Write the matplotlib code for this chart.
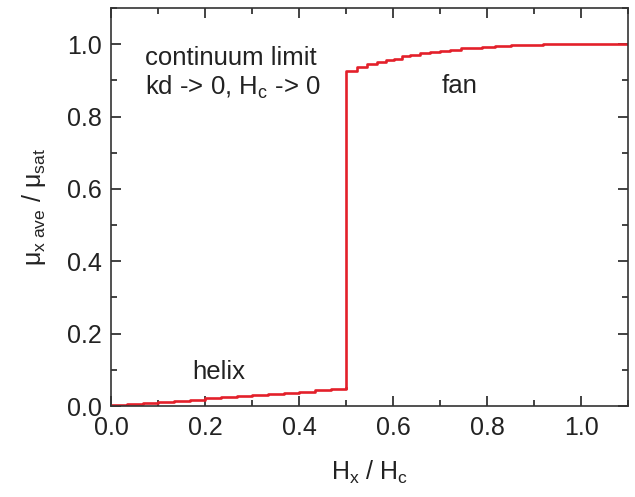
import matplotlib
matplotlib.use("Agg")
import matplotlib.pyplot as plt
from matplotlib.ticker import MultipleLocator, FormatStrFormatter

plt.rcParams['font.family'] = ['Liberation Sans', 'DejaVu Sans']
plt.rcParams['mathtext.fontset'] = 'custom'
plt.rcParams['mathtext.rm'] = 'Liberation Sans'
plt.rcParams['mathtext.it'] = 'Liberation Sans'
plt.rcParams['mathtext.sf'] = 'Liberation Sans'

# helix branch (staircase)
helix_x = [0.0, 0.033, 0.067, 0.1, 0.133, 0.167, 0.2, 0.233, 0.267, 0.3,
           0.333, 0.367, 0.4, 0.433, 0.467, 0.5]
helix_y = [0.003, 0.006, 0.009, 0.012, 0.015, 0.018, 0.021, 0.024, 0.027, 0.030,
           0.034, 0.037, 0.040, 0.043, 0.047, 0.050]
# fan branch
fan_x = [0.5, 0.5, 0.523, 0.545, 0.566, 0.585, 0.601, 0.62, 0.636, 0.658, 0.679,
         0.7, 0.722, 0.745, 0.765, 0.79, 0.817, 0.85, 0.886, 0.92, 1.0, 1.1]
fan_y = [0.050, 0.925, 0.937, 0.944, 0.951, 0.956, 0.960, 0.966, 0.971, 0.975, 0.979,
         0.982, 0.985, 0.988, 0.990, 0.992, 0.994, 0.997, 0.999, 1.0, 1.0, 1.0]

red = '#e3202a'
fig = plt.figure(figsize=(6.35, 4.97), dpi=100)
ax = fig.add_axes([0.175, 0.183, 0.814, 0.801])
ax.plot(helix_x, helix_y, color=red, lw=1.9, drawstyle='steps-post')
ax.plot(fan_x, fan_y, color=red, lw=1.9, drawstyle='steps-post')

ax.set_xlim(0, 1.1)
ax.set_ylim(0, 1.1)
ax.set_xticks([0, 0.2, 0.4, 0.6, 0.8, 1.0])
ax.set_yticks([0, 0.2, 0.4, 0.6, 0.8, 1.0])
ax.xaxis.set_minor_locator(MultipleLocator(0.1))
ax.yaxis.set_minor_locator(MultipleLocator(0.1))
ax.tick_params(which='both', direction='in', top=True, right=True, labelsize=18,
               width=1.2, pad=7, colors='#222222')
ax.tick_params(which='major', length=7)
ax.tick_params(which='minor', length=4)
ax.xaxis.set_major_formatter(FormatStrFormatter('%.1f'))
ax.yaxis.set_major_formatter(FormatStrFormatter('%.1f'))
for s in ax.spines.values():
    s.set_linewidth(1.2)
    s.set_color('#333333')

ax.set_xlabel(r'H$_\mathregular{x}$ / H$_\mathregular{c}$', fontsize=18, labelpad=14, color='#222222')
ax.set_ylabel(r'$\mathregular{\mu_{x\ ave}}$ / $\mathregular{\mu_{sat}}$', fontsize=18, labelpad=13, color='#222222')

tc = '#222222'
ax.text(0.072, 0.942, 'continuum limit', fontsize=18.5, va='baseline', ha='left', color=tc)
ax.text(0.072, 0.859, r'kd -> 0, H$_\mathregular{c}$ -> 0', fontsize=18.5, va='baseline', ha='left', color=tc)
ax.text(0.742, 0.865, 'fan', fontsize=18.5, va='baseline', ha='center', color=tc)
ax.text(0.228, 0.075, 'helix', fontsize=18.5, va='baseline', ha='center', color=tc)

fig.savefig('out.png', dpi=100)
